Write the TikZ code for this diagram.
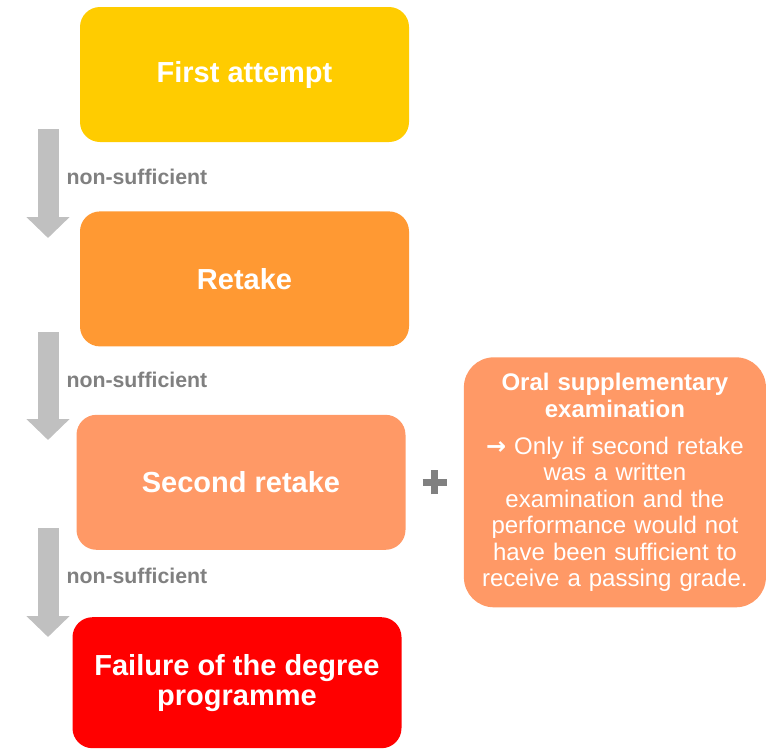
\documentclass[tikz,border=0pt]{standalone}
\usepackage{fontspec}
\setmainfont{Liberation Sans}
\newfontfamily\arrowfont{DejaVu Sans}
\usetikzlibrary{positioning,calc,arrows.meta}
\definecolor{attemptyellow}{HTML}{FFCC00}
\definecolor{retakeorange}{HTML}{FF9933}
\definecolor{secondsalmon}{HTML}{FF9966}
\definecolor{failred}{HTML}{FF0000}
\definecolor{arrowgray}{HTML}{C0C0C0}
\definecolor{labelgray}{HTML}{808080}

\begin{document}
\begin{tikzpicture}[x=1pt, y=1pt,
    stage/.style={rectangle, rounded corners=20pt, minimum width=329pt,
            minimum height=135pt, inner sep=0pt, text=white, align=center,
            font=\fontsize{29}{30}\selectfont\bfseries},
    flow/.style={draw=arrowgray, line width=21pt, -{Triangle[width=42pt,length=21pt]}},
    insuff/.style={pos=0.44, anchor=west, xshift=8pt, inner sep=0pt, text=labelgray,
            font=\fontsize{21.3}{24}\selectfont\bfseries}]
    \useasboundingbox (0,0) rectangle (772,-748);

    % arrows go behind the boxes
    \coordinate (top1) at (48,-129);
    \coordinate (end1) at (48,-238);
    \coordinate (top2) at (48,-332);
    \coordinate (end2) at (48,-440);
    \coordinate (top3) at (48,-528);
    \coordinate (end3) at (48,-637);
    \draw[flow] (top1) -- node[insuff] {non-sufficient} (end1);
    \draw[flow] (top2) -- node[insuff] {non-sufficient} (end2);
    \draw[flow] (top3) -- node[insuff] {non-sufficient} (end3);

    \node[stage, fill=attemptyellow] (first) at (244.5,-74.5) {First attempt};
    \node[stage, fill=retakeorange, below=69pt of first] (retake) {Retake};
    \node[stage, fill=secondsalmon, below=68pt of retake, xshift=-3.5pt] (second) {Second retake};
    \node[stage, fill=failred, below=67pt of second, xshift=-4pt, minimum height=131pt]
        (failure) {Failure of the degree\\programme};

    \node[rectangle, rounded corners=30pt, fill=secondsalmon, minimum width=302pt,
        minimum height=250pt, text width=296pt, inner sep=0pt, align=center, text=white,
        font=\fontsize{24}{26.4}\selectfont, right=58pt of second] (oral)
        {{\bfseries Oral supplementary\\examination}\\[11pt]
         {\arrowfont\bfseries →} Only if second retake\\was a written\\examination and the\\
         performance would not\\have been sufficient to\\receive a passing grade.};

    % plus sign between the two boxes
    \coordinate (plus) at ($(second.east)!0.5!(oral.west)$);
    \draw[labelgray, line width=7pt] ([xshift=-12pt]plus) -- ([xshift=12pt]plus)
        ([yshift=-12pt]plus) -- ([yshift=12pt]plus);
\end{tikzpicture}
\end{document}
